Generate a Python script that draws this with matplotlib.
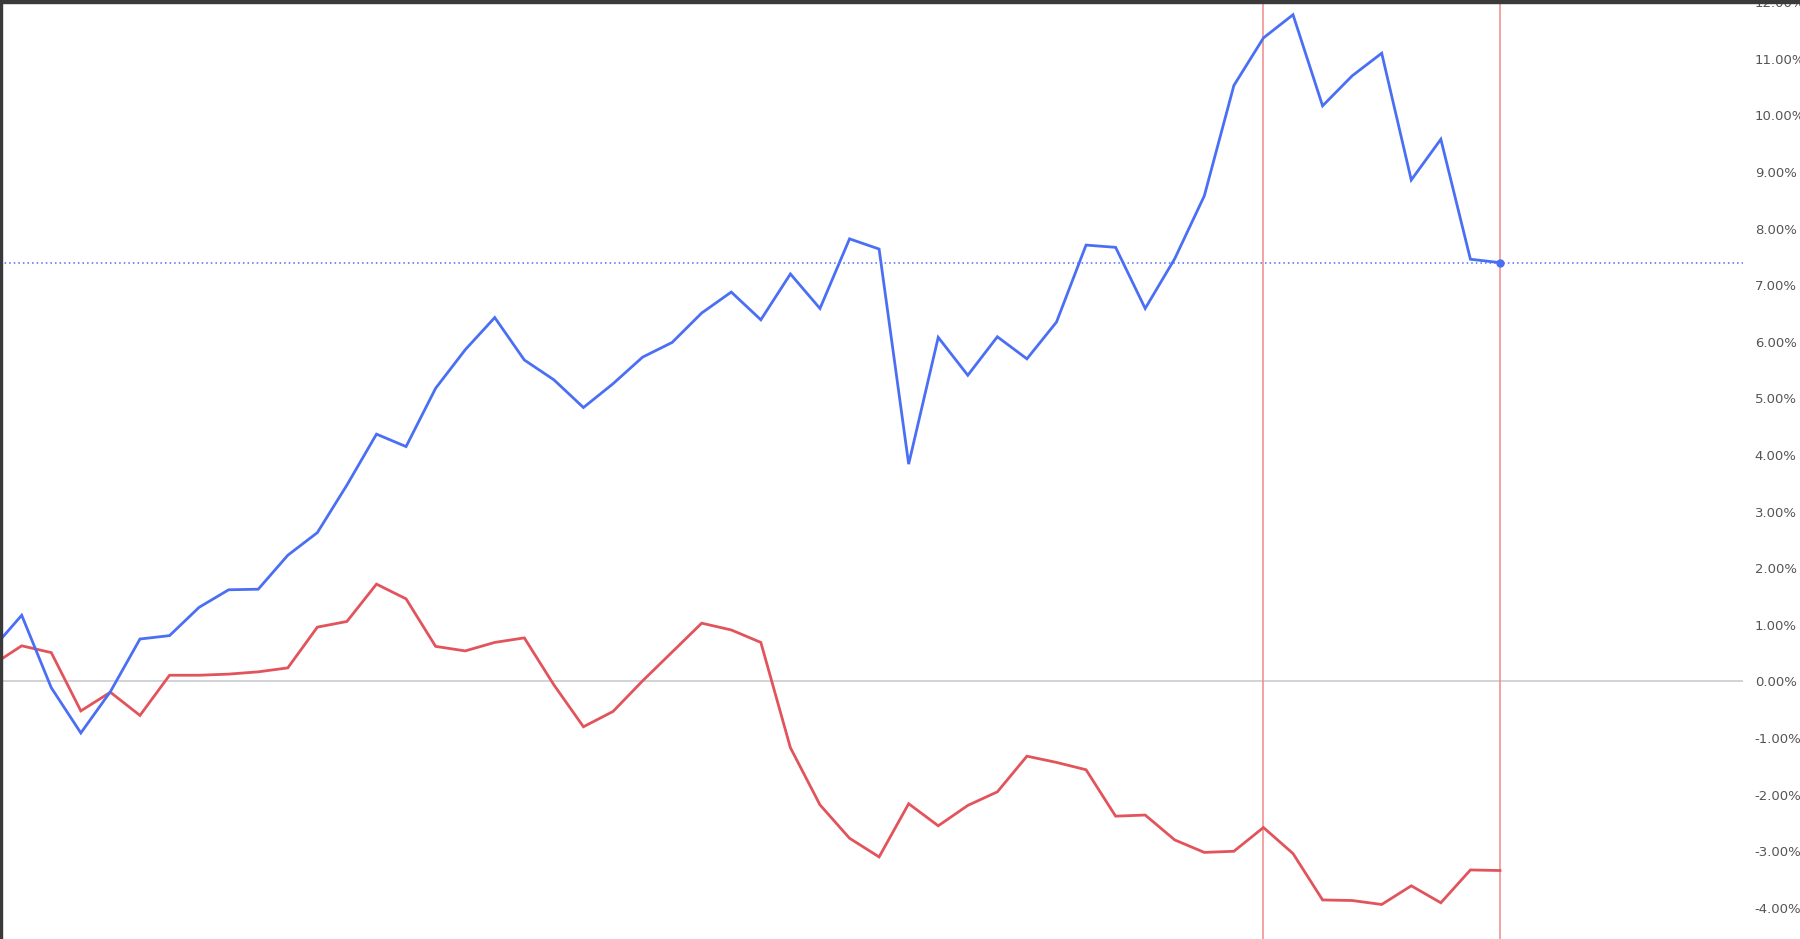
import matplotlib
matplotlib.use("Agg")
import matplotlib.pyplot as plt
from matplotlib.patches import Rectangle

# ---- data (percent) ----
blue_values = [0.57, 1.17, -0.11, -0.91, -0.18, 0.75, 0.81, 1.31, 1.62, 1.63,
               2.23, 2.63, 3.47, 4.37, 4.15, 5.18, 5.86, 6.43, 5.68, 5.33,
               4.84, 5.26, 5.73, 5.99, 6.51, 6.88, 6.39, 7.20, 6.59, 7.82,
               7.64, 3.84, 6.08, 5.41, 6.09, 5.70, 6.35, 7.71, 7.67, 6.59,
               7.47, 8.58, 10.53, 11.37, 11.78, 10.17, 10.70, 11.10, 8.86, 9.58,
               7.46, 7.40]
red_values = [0.29, 0.63, 0.51, -0.52, -0.19, -0.60, 0.11, 0.11, 0.13, 0.17,
              0.24, 0.96, 1.06, 1.72, 1.46, 0.62, 0.54, 0.69, 0.77, -0.06,
              -0.80, -0.53, 0.01, 0.52, 1.03, 0.91, 0.69, -1.17, -2.18, -2.77,
              -3.10, -2.16, -2.55, -2.19, -1.95, -1.32, -1.43, -1.56, -2.38, -2.36,
              -2.80, -3.02, -3.00, -2.58, -3.04, -3.86, -3.87, -3.94, -3.61, -3.91,
              -3.33, -3.34]
x_index = list(range(len(blue_values)))
marker_indices = [43, 51]
ytick_values = [-4, -3, -2, -1, 0, 1, 2, 3, 4, 5, 6, 7, 8, 9, 10, 11, 12]
ytick_labels = ["-4.00%", "-3.00%", "-2.00%", "-1.00%", "0.00%", "1.00%", "2.00%",
                "3.00%", "4.00%", "5.00%", "6.00%", "7.00%", "8.00%", "9.00%",
                "10.00%", "11.00%", "12.00%"]

BLUE = "#4a6ff5"
RED = "#e2535b"

W, H = 1800, 939
fig = plt.figure(figsize=(W / 100, H / 100), dpi=100)
ax = fig.add_axes([0, 0, 1743 / W, 1.0])

ax.axhline(0, color="#cfd0d6", lw=1.3, zorder=1)
for mi in marker_indices:
    ax.axvline(x_index[mi], color="#f08a8a", lw=1.1, zorder=1)
ax.axhline(blue_values[-1], color=BLUE, lw=1.1, ls=(0, (1, 2)), zorder=1)

ax.plot(x_index, red_values, color=RED, lw=2.0, zorder=3, solid_joinstyle="miter")
ax.plot(x_index, blue_values, color=BLUE, lw=2.0, zorder=4, solid_joinstyle="miter")
ax.plot([x_index[-1]], [blue_values[-1]], "o", color=BLUE, ms=5, zorder=5)

ax.set_xlim(0.266, 59.22)
ax.set_ylim(-4.55, 12.04)
ax.yaxis.tick_right()
ax.set_yticks(ytick_values)
ax.set_yticklabels(ytick_labels)
ax.tick_params(axis="y", length=0, pad=8.5, labelsize=9.5, labelcolor="#555555")
ax.tick_params(axis="x", bottom=False, labelbottom=False)
for s in ax.spines.values():
    s.set_visible(False)
for lbl in ax.get_yticklabels():
    lbl.set_clip_on(False)

# window frame borders
fig.patches.append(Rectangle((0, 1 - 3 / H), 1, 3 / H, transform=fig.transFigure,
                             color="#3a3a3a", zorder=10))
fig.patches.append(Rectangle((0, 0), 2 / W, 1, transform=fig.transFigure,
                             color="#3a3a3a", zorder=10))

fig.savefig("out.png", dpi=100)
